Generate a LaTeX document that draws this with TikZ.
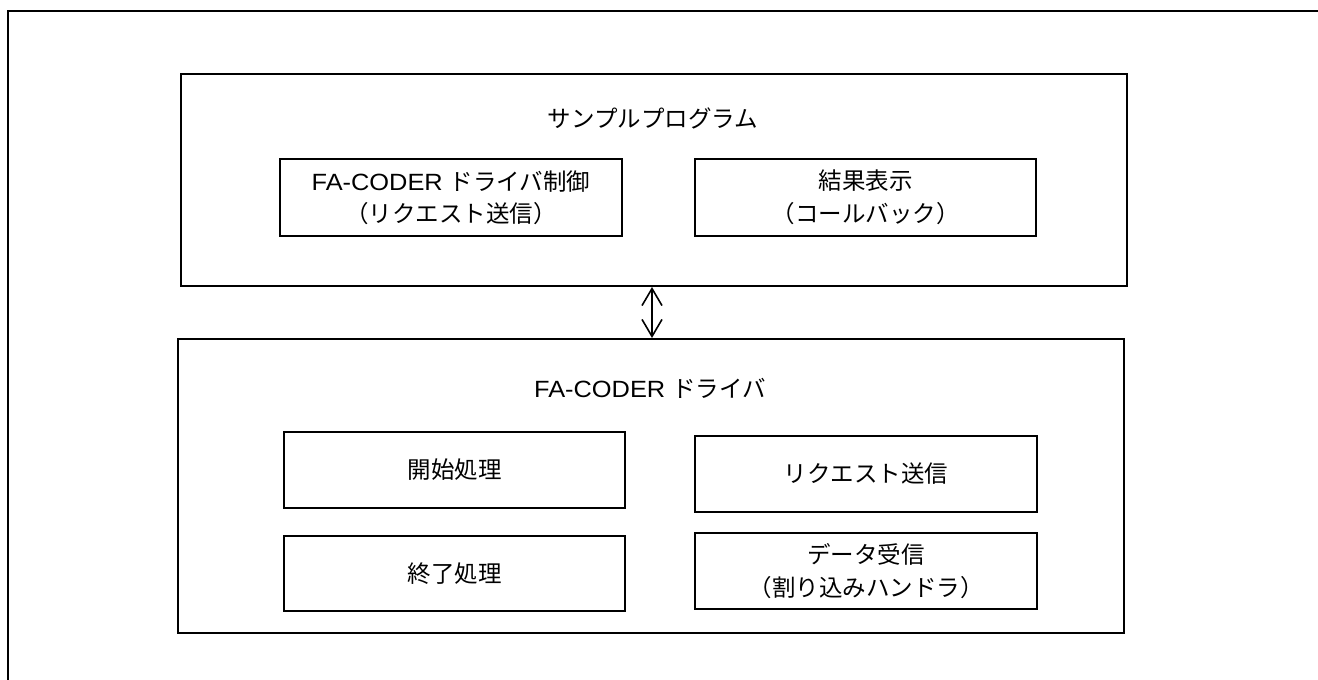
\documentclass[tikz,border=0pt]{standalone}
\usepackage{fontspec}
\setmainfont{Liberation Sans}[FakeStretch=1.08]
\newfontfamily\jp{Noto Sans CJK JP}
\usetikzlibrary{arrows.meta}
\begin{document}
\begin{tikzpicture}[x=1pt,y=-1pt,
  frame/.style={draw=black,line width=2pt},
  bigbox/.style={draw=black,line width=2pt,rectangle,inner sep=0pt,minimum width=946pt},
  smallbox/.style={draw=black,line width=2pt,rectangle,inner sep=0pt,align=center,
     font=\fontsize{23.5}{32.5}\selectfont},
  title/.style={font=\fontsize{23.5}{32.5}\selectfont,inner sep=0pt},
  dbl/.style={line width=1.6pt,{Straight Barb[length=17pt,width=20pt,line width=1.6pt]}-{Straight Barb[length=17pt,width=20pt,line width=1.6pt]}}
]
\useasboundingbox (0,0) rectangle (1318,680);
\clip (0,0) rectangle (1318,680);
\draw[frame] (8,11) rectangle (1340,700);

\node[bigbox,minimum height=212pt] (up) at (654,180) {};
\node[bigbox,minimum height=294pt] (low) at (651,486) {};

\node[title] (uptitle) at (653,118) {\jp サンプルプログラム};
\node[title] (lowtitle) at (650,388) {FA-CODER {\jp ドライバ}};

\node[smallbox,minimum width=342pt,minimum height=77pt] (ctrl) at (451,197.5)
  {FA-CODER {\jp ドライバ制御}\\{\jp （リクエスト送信）}};
\node[smallbox,minimum width=341pt,minimum height=77pt] (res) at (865.5,197.5)
  {{\jp 結果表示}\\{\jp （コールバック）}};

\node[smallbox,minimum width=341pt,minimum height=76pt] (start) at (454.5,470) {\jp 開始処理};
\node[smallbox,minimum width=341pt,minimum height=75pt] (end) at (454.5,573.5) {\jp 終了処理};
\node[smallbox,minimum width=342pt,minimum height=76pt] (req) at (866,474) {\jp リクエスト送信};
\node[smallbox,minimum width=342pt,minimum height=76pt] (recv) at (866,571)
  {{\jp データ受信}\\{\jp （割り込みハンドラ）}};

\coordinate (ax) at (652,0);
\draw[dbl] (up.south -| ax) -- (low.north -| ax);
\end{tikzpicture}
\end{document}
